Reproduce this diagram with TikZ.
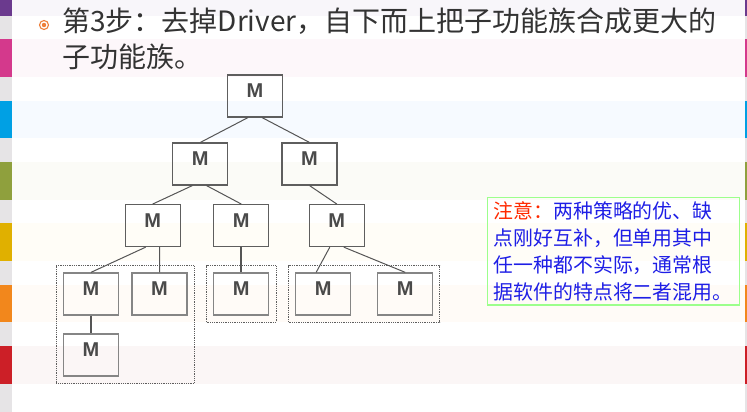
\documentclass[tikz,border=0pt]{standalone}
\usepackage{fontspec}
\setmainfont{Liberation Sans}
\newfontfamily\cjk{Noto Sans CJK SC}
\usepackage{tikz}
\usetikzlibrary{fit,backgrounds}
\definecolor{stripgray}{HTML}{E6E4E6}
\definecolor{sPurple}{HTML}{6B3A8E}\definecolor{tPurple}{HTML}{F8F6FA}
\definecolor{sPink}{HTML}{D4398C}\definecolor{tPink}{HTML}{FDF7FA}
\definecolor{sBlue}{HTML}{00A0E4}\definecolor{tBlue}{HTML}{F6FAFF}
\definecolor{sOlive}{HTML}{8FA03D}\definecolor{tOlive}{HTML}{FBFBF7}
\definecolor{sYellow}{HTML}{E0B000}\definecolor{tYellow}{HTML}{FFFDF7}
\definecolor{sOrange}{HTML}{F2871C}\definecolor{tOrange}{HTML}{FFFBF7}
\definecolor{sRed}{HTML}{CC1F27}\definecolor{tRed}{HTML}{FBF6F6}
\definecolor{titlegray}{HTML}{333333}
\definecolor{bulletorange}{HTML}{EE7F3A}
\definecolor{boxgray}{HTML}{858585}
\definecolor{upgray}{HTML}{5E5E5E}
\definecolor{linkgray}{HTML}{555555}
\definecolor{mgray}{HTML}{4A4A4A}
\definecolor{notegreen}{HTML}{9CFF8C}
\definecolor{notered}{HTML}{FF2A00}
\definecolor{noteblue}{HTML}{1E1EE6}

\begin{document}
\begin{tikzpicture}[x=1pt,y=-1pt,
  mbox/.style={draw=boxgray,line width=1.3pt,minimum width=55pt,minimum height=42pt,inner sep=0pt,
    font=\bfseries\fontsize{20}{20}\selectfont,text=mgray,text height=14.5pt,text depth=11pt},
  upbox/.style={mbox,draw=upgray,line width=1.1pt},
  link/.style={draw=linkgray,line width=1pt},
  thicklink/.style={link,line width=1.8pt},
  grp/.style={draw=upgray,densely dotted,line width=0.8pt,inner sep=6.5pt},
  title/.style={anchor=base west,inner sep=0pt,text=titlegray,font=\cjk\fontsize{28}{36}\selectfont},
  note/.style={draw=notegreen,line width=1.2pt,anchor=north west,text width=240pt,inner xsep=6pt,
    minimum height=107.6pt,align=left,text=noteblue,font=\cjk\fontsize{19.9}{27}\selectfont}]
  \useasboundingbox (0,0) rectangle (747,412);
  \clip (0,0) rectangle (747,412);
  \fill[white] (0,0) rectangle (747,412);
  \fill[stripgray] (0,0) rectangle (12,412);
  \fill[stripgray] (745,0) rectangle (747,412);
  \foreach \sc/\tc [count=\k from 0] in {sPurple/tPurple,sPink/tPink,sBlue/tBlue,sOlive/tOlive,sYellow/tYellow,sOrange/tOrange,sRed/tRed}{
    \fill[\tc] (12,{-22+61.3*\k}) rectangle (745,{15.8+61.3*\k});
    \fill[\sc] (0,{-22+61.3*\k}) rectangle (12,{15.8+61.3*\k});
    \fill[\sc] (745,{-22+61.3*\k}) rectangle (747,{15.8+61.3*\k});
  }

  \node[circle,draw=bulletorange,line width=1.1pt,minimum size=9pt,inner sep=0pt] (bul) at (44,25) {};
  \fill[bulletorange] (bul) circle (2.2pt);
  \node[title] (ttl1) at (62,32) {第3步：去掉Driver，自下而上把子功能族合成更大的};
  \node[title] (ttl2) at (62,68) {子功能族。};

  \coordinate (cT) at (255,96);
  \coordinate (cA) at (200.3,164);
  \coordinate (cB) at (309.5,164);
  \node[upbox] (t) at (cT) {M};
  \node[upbox] (a) at (cA) {M};
  \node[upbox] (b) at (cB) {M};
  \node[upbox] (aa) at (152.7,225.6) {M};
  \node[upbox] (ab) at (241.3,225.6) {M};
  \node[upbox] (ba) at (336.8,225.6) {M};
  \node[mbox] (d) at (91,294) {M};
  \node[mbox] (e) at (159.5,294) {M};
  \node[mbox] (f) at (241.3,294) {M};
  \node[mbox] (g) at (323.2,294) {M};
  \node[mbox] (h) at (405.2,294) {M};
  \node[mbox] (i) at (91,355) {M};

  \draw[link] (t.-108) -- (a.north);
  \draw[link] (t.-72) -- (b.north);
  \draw[link] (a.-110) -- (aa.north);
  \draw[link] (a.-74) -- (ab.north);
  \draw[link] (b.south) -- (ba.north);
  \draw[link] (aa.-108) -- (d.north);
  \draw[link] (aa.-72) -- (e.north);
  \draw[thicklink] (ab.south) -- (f.north);
  \draw[link] (ba.-108) -- (g.108);
  \draw[link] (ba.-72) -- (h.north);
  \draw[thicklink] (d.south) -- (i.north);

  \node[grp,fit=(d)(e)(i)] (g1) {};
  \node[grp,fit=(f)] (g2) {};
  \node[grp,fit=(g)(h)] (g3) {};

  \node[note] (nt) at (487,196.7) {\textcolor{notered}{注意：}两种策略的优、缺\\点刚好互补，但单用其中\\任一种都不实际，通常根\\据软件的特点将二者混用。};
\end{tikzpicture}
\end{document}
